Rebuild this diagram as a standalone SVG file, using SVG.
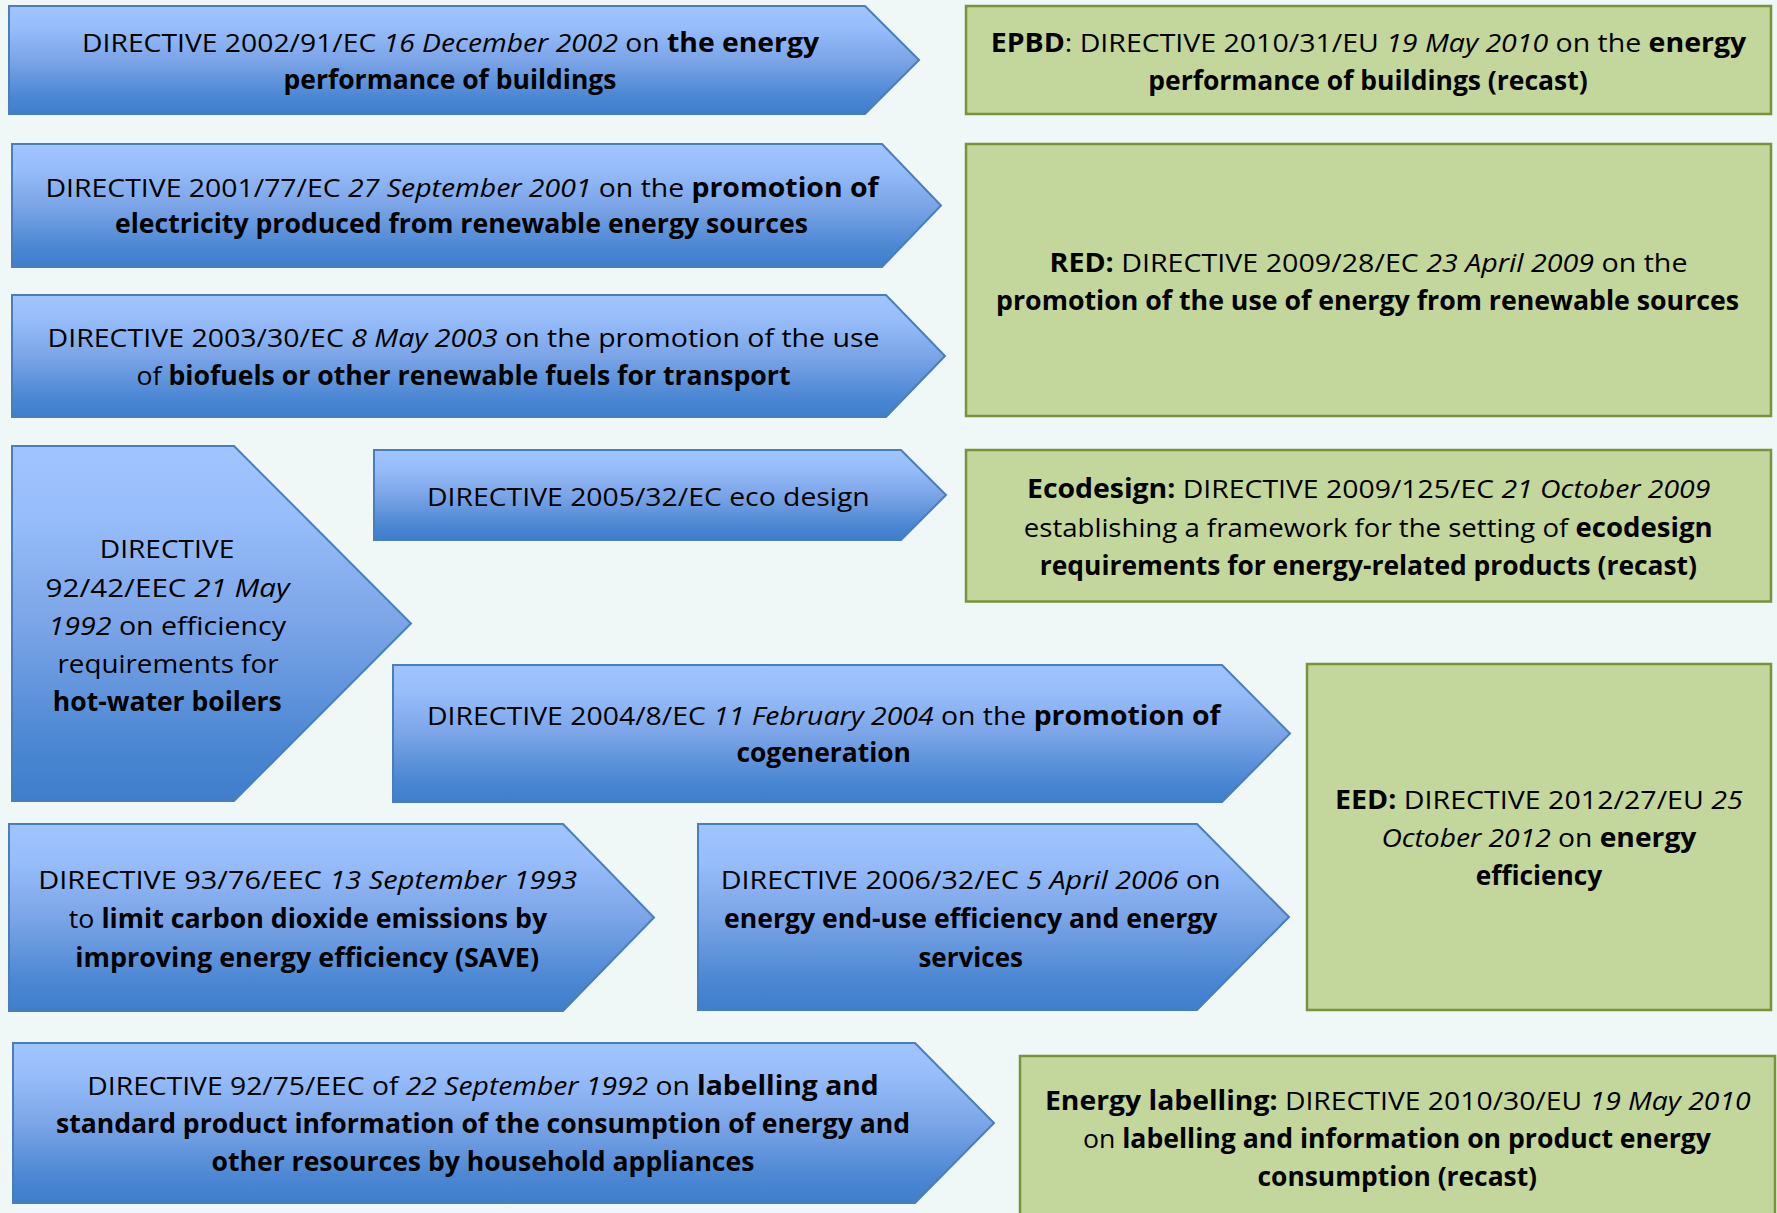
<svg xmlns="http://www.w3.org/2000/svg" width="1777" height="1213" viewBox="0 0 1777 1213">
<defs>
<linearGradient id="blueGrad" x1="0" y1="0" x2="0" y2="1">
<stop offset="0" stop-color="#A0C4FF"/>
<stop offset="0.2" stop-color="#97BDFA"/>
<stop offset="0.5" stop-color="#7BA5E7"/>
<stop offset="0.85" stop-color="#4A86D2"/>
<stop offset="1" stop-color="#3F7ECC"/>
</linearGradient>
<style>
.arrow{fill:url(#blueGrad);stroke:#4A7EBB;stroke-width:2;stroke-linejoin:miter}
.box{fill:#C3D69B;stroke:#77933C;stroke-width:2.5}
text{font-family:"Open Sans","Liberation Sans",sans-serif;font-size:26px;fill:#000;text-anchor:middle}
.b{font-weight:bold}
.i{font-style:italic}
</style>
</defs>
<rect x="0" y="0" width="1777" height="1213" fill="#EFF7F7"/>

<g id="d2002-91">
<polygon class="arrow" points="9,6 865,6 919,60 865,114 9,114"/>
<text x="450.5" y="51.5" textLength="737" lengthAdjust="spacingAndGlyphs">DIRECTIVE 2002/91/EC <tspan class="i">16 December 2002</tspan> on <tspan class="b">the energy</tspan></text>
<text x="450" y="89" textLength="333" lengthAdjust="spacingAndGlyphs" class="b">performance of buildings</text>
</g>

<g id="d2001-77">
<polygon class="arrow" points="12,144 882,144 941,205.5 882,267 12,267"/>
<text x="462" y="196.5" textLength="833" lengthAdjust="spacingAndGlyphs">DIRECTIVE 2001/77/EC <tspan class="i">27 September 2001</tspan> on the <tspan class="b">promotion of</tspan></text>
<text x="461.5" y="233" textLength="693" lengthAdjust="spacingAndGlyphs" class="b">electricity produced from renewable energy sources</text>
</g>

<g id="d2003-30">
<polygon class="arrow" points="12,295 886,295 945,356 886,417 12,417"/>
<text x="463.5" y="347" textLength="832" lengthAdjust="spacingAndGlyphs">DIRECTIVE 2003/30/EC <tspan class="i">8 May 2003</tspan> on the promotion of the use</text>
<text x="463.5" y="385" textLength="654" lengthAdjust="spacingAndGlyphs">of <tspan class="b">biofuels or other renewable fuels for transport</tspan></text>
</g>

<g id="d92-42">
<polygon class="arrow" points="12,446 234,446 411,623.5 234,801 12,801"/>
<text x="167" y="558" textLength="134.5" lengthAdjust="spacingAndGlyphs">DIRECTIVE</text>
<text x="167.6" y="596.5" textLength="244" lengthAdjust="spacingAndGlyphs">92/42/EEC <tspan class="i">21 May</tspan></text>
<text x="167.3" y="634.5" textLength="237.5" lengthAdjust="spacingAndGlyphs"><tspan class="i">1992</tspan> on efficiency</text>
<text x="168" y="673" textLength="221" lengthAdjust="spacingAndGlyphs">requirements for</text>
<text x="167.3" y="711" textLength="229" lengthAdjust="spacingAndGlyphs" class="b">hot-water boilers</text>
</g>

<g id="d2005-32">
<polygon class="arrow" points="374,450 901,450 946,495 901,540 374,540"/>
<text x="648.4" y="506" textLength="442.7" lengthAdjust="spacingAndGlyphs">DIRECTIVE 2005/32/EC eco design</text>
</g>

<g id="d2004-8">
<polygon class="arrow" points="393,665 1222,665 1290,733.5 1222,802 393,802"/>
<text x="823.8" y="725" textLength="793.6" lengthAdjust="spacingAndGlyphs">DIRECTIVE 2004/8/EC <tspan class="i">11 February 2004</tspan> on the <tspan class="b">promotion of</tspan></text>
<text x="823.7" y="762" textLength="174.6" lengthAdjust="spacingAndGlyphs" class="b">cogeneration</text>
</g>

<g id="d93-76">
<polygon class="arrow" points="9,824 563,824 654,917.5 563,1011 9,1011"/>
<text x="307.8" y="889" textLength="539" lengthAdjust="spacingAndGlyphs">DIRECTIVE 93/76/EEC <tspan class="i">13 September 1993</tspan></text>
<text x="308" y="928" textLength="478.3" lengthAdjust="spacingAndGlyphs">to <tspan class="b">limit carbon dioxide emissions by</tspan></text>
<text x="307.2" y="966.5" textLength="463.7" lengthAdjust="spacingAndGlyphs" class="b">improving energy efficiency (SAVE)</text>
</g>

<g id="d2006-32">
<polygon class="arrow" points="698,824 1197,824 1289,917 1197,1010 698,1010"/>
<text x="970.7" y="889" textLength="500" lengthAdjust="spacingAndGlyphs">DIRECTIVE 2006/32/EC <tspan class="i">5 April 2006</tspan> on</text>
<text x="970.7" y="928" textLength="493.4" lengthAdjust="spacingAndGlyphs" class="b">energy end-use efficiency and energy</text>
<text x="970.7" y="966.5" textLength="104.6" lengthAdjust="spacingAndGlyphs" class="b">services</text>
</g>

<g id="d92-75">
<polygon class="arrow" points="13,1043 915,1043 994,1123 915,1203 13,1203"/>
<text x="483" y="1095" textLength="791.4" lengthAdjust="spacingAndGlyphs">DIRECTIVE 92/75/EEC of <tspan class="i">22 September 1992</tspan> on <tspan class="b">labelling and</tspan></text>
<text x="483" y="1133" textLength="854" lengthAdjust="spacingAndGlyphs" class="b">standard product information of the consumption of energy and</text>
<text x="483" y="1171" textLength="542.8" lengthAdjust="spacingAndGlyphs" class="b">other resources by household appliances</text>
</g>

<g id="epbd">
<rect class="box" x="966" y="6" width="805" height="108"/>
<text x="1368.5" y="51.5" textLength="755.5" lengthAdjust="spacingAndGlyphs"><tspan class="b">EPBD</tspan>: DIRECTIVE 2010/31/EU <tspan class="i">19 May 2010</tspan> on the <tspan class="b">energy</tspan></text>
<text x="1368" y="89.5" textLength="439.4" lengthAdjust="spacingAndGlyphs" class="b">performance of buildings (recast)</text>
</g>

<g id="red">
<rect class="box" x="966" y="144" width="805" height="272"/>
<text x="1368.5" y="271.5" textLength="638" lengthAdjust="spacingAndGlyphs"><tspan class="b">RED:</tspan> DIRECTIVE 2009/28/EC <tspan class="i">23 April 2009</tspan> on the</text>
<text x="1367.6" y="309.5" textLength="743" lengthAdjust="spacingAndGlyphs" class="b">promotion of the use of energy from renewable sources</text>
</g>

<g id="ecodesign">
<rect class="box" x="966" y="450" width="805" height="151.5"/>
<text x="1368.7" y="498" textLength="683.4" lengthAdjust="spacingAndGlyphs"><tspan class="b">Ecodesign:</tspan> DIRECTIVE 2009/125/EC <tspan class="i">21 October 2009</tspan></text>
<text x="1368.2" y="536.5" textLength="688.8" lengthAdjust="spacingAndGlyphs">establishing a framework for the setting of <tspan class="b">ecodesign</tspan></text>
<text x="1368.4" y="574.5" textLength="657.2" lengthAdjust="spacingAndGlyphs" class="b">requirements for energy-related products (recast)</text>
</g>

<g id="eed">
<rect class="box" x="1307" y="664" width="464" height="346"/>
<text x="1538.9" y="808.5" textLength="407.7" lengthAdjust="spacingAndGlyphs"><tspan class="b">EED:</tspan> DIRECTIVE 2012/27/EU <tspan class="i">25</tspan></text>
<text x="1538.9" y="847" textLength="315" lengthAdjust="spacingAndGlyphs"><tspan class="i">October 2012</tspan> on <tspan class="b">energy</tspan></text>
<text x="1539" y="885" textLength="126.6" lengthAdjust="spacingAndGlyphs" class="b">efficiency</text>
</g>

<g id="energy-labelling">
<rect class="box" x="1020" y="1056" width="755" height="170"/>
<text x="1397.8" y="1109.5" textLength="705.6" lengthAdjust="spacingAndGlyphs"><tspan class="b">Energy labelling:</tspan> DIRECTIVE 2010/30/EU <tspan class="i">19 May 2010</tspan></text>
<text x="1397" y="1147.5" textLength="628" lengthAdjust="spacingAndGlyphs">on <tspan class="b">labelling and information on product energy</tspan></text>
<text x="1397.3" y="1186" textLength="279.5" lengthAdjust="spacingAndGlyphs" class="b">consumption (recast)</text>
</g>
</svg>
